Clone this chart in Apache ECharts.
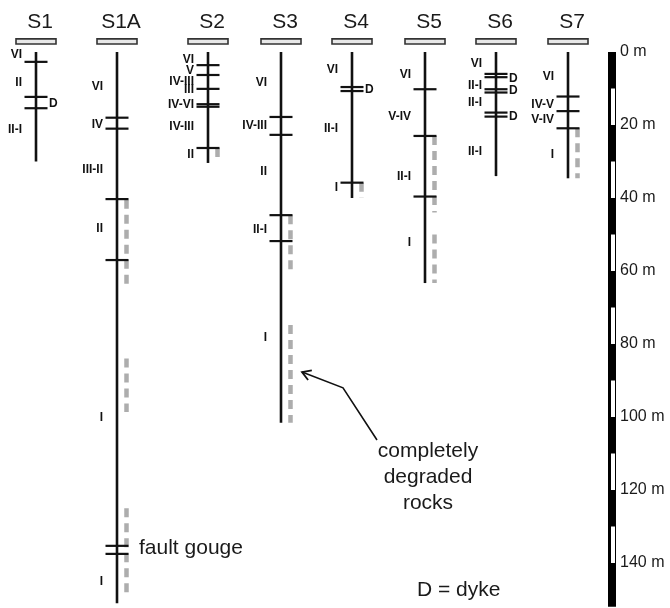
<!DOCTYPE html>
<html>
<head>
<meta charset="utf-8">
<script src="https://cdn.jsdelivr.net/npm/echarts@6/dist/echarts.min.js"></script>
<style>
  html, body { margin: 0; padding: 0; background: #fff; }
  #chart { width: 670px; height: 608px; }
</style>
</head>
<body>
<div id="chart"></div>
<script>
// boreholes and their total depth (m)
const wells = ['S1', 'S1A', 'S2', 'S3', 'S4', 'S5', 'S6', 'S7'];
const wellDepth = [30, 151, 30.4, 101.6, 40, 63.3, 34, 34.6];

// zone boundaries: [well index, depth m]
const contacts = [
  [0, 2.7], [0, 12.3], [0, 15.4],
  [1, 18], [1, 21], [1, 40.3], [1, 57], [1, 135.3], [1, 137.5],
  [2, 3.6], [2, 6.3], [2, 10.1], [2, 14.3], [2, 15], [2, 26.3],
  [3, 17.8], [3, 22.7], [3, 44.7], [3, 51.8],
  [4, 9.6], [4, 10.7], [4, 35.8],
  [5, 10.2], [5, 23], [5, 39.6],
  [6, 6], [6, 6.9], [6, 10.2], [6, 11.1], [6, 16.6], [6, 17.7],
  [7, 12.2], [7, 16.2], [7, 20.9]
];

// completely degraded rock intervals: [well index, from m, to m]
const degraded = [
  [1, 40.5, 64.7], [1, 84, 98.6], [1, 125, 149],
  [2, 26.3, 28.8],
  [3, 44.7, 59.7], [3, 74.8, 101.6],
  [4, 35.8, 40],
  [5, 23, 44], [5, 50, 63.3],
  [7, 20.9, 34.6]
];

// weathering grade labels: [well index, depth m, text]
const zoneLabels = [
  [0, 0.8, 'VI'], [0, 8.5, 'II'], [0, 21.4, 'II-I'],
  [1, 9.6, 'VI'], [1, 19.8, 'IV'], [1, 32.3, 'III-II'], [1, 48.5, 'II'], [1, 100.3, 'I'], [1, 145, 'I'],
  [2, 2.2, 'VI'], [2, 5.2, 'V'], [2, 8.2, 'IV-III'], [2, 10.4, 'III'], [2, 14.5, 'IV-VI'], [2, 20.5, 'IV-III'], [2, 28.2, 'II'],
  [3, 8.4, 'VI'], [3, 20.3, 'IV-III'], [3, 32.8, 'II'], [3, 48.6, 'II-I'], [3, 78.4, 'I'],
  [4, 4.9, 'VI'], [4, 20.9, 'II-I'], [4, 37.3, 'I'],
  [5, 6.3, 'VI'], [5, 17.8, 'V-IV'], [5, 34.2, 'II-I'], [5, 52.2, 'I'],
  [6, 3.1, 'VI'], [6, 9.3, 'II-I'], [6, 13.9, 'II-I'], [6, 27.4, 'II-I'],
  [7, 6.8, 'VI'], [7, 14.5, 'IV-V'], [7, 18.6, 'V-IV'], [7, 28.2, 'I']
];

// dykes: [well index, depth m]
const dykes = [[0, 14.2], [4, 10.4], [6, 7.2], [6, 10.6], [6, 17.7]];

// depth scale
const scaleTicks = [0, 20, 40, 60, 80, 100, 120, 140];
const scaleWhite = [[10, 20], [30, 40], [50, 60], [70, 80], [90, 100], [110, 120], [130, 140]];
const scaleEnd = 152;

// layout (x in page px units, y in metres)
const wellX = [36, 117, 208, 281, 352, 425, 496, 568];
const scaleX = 608;
const PX_PER_M = 3.65;
const TOP = 52;
const FONT = '"Liberation Sans", Arial, sans-serif';

const chart = echarts.init(document.getElementById('chart'));

function seg(x1, y1, x2, y2, w, c) {
  return { type: 'line', shape: { x1, y1, x2, y2 }, style: { stroke: c || '#111', lineWidth: w } };
}

chart.setOption({
  animation: false,
  grid: { left: 0, right: 0, top: 0, bottom: 0 },
  xAxis: { type: 'value', min: 0, max: 670, show: false },
  yAxis: { type: 'value', inverse: true, min: -TOP / PX_PER_M, max: (608 - TOP) / PX_PER_M, show: false },
  series: [
    {
      // headers + collar boxes
      type: 'custom', silent: true,
      data: wells.map((w, i) => [wellX[i], 0, w]),
      renderItem: (params, api) => {
        const x = api.coord([api.value(0), 0])[0];
        const yT = api.coord([0, -8.2])[1];
        const y1 = api.coord([0, -3.6])[1];
        const y2 = api.coord([0, -2.2])[1];
        const name = wells[params.dataIndex];
        return {
          type: 'group', children: [
            { type: 'text', x: x + 4, y: yT, style: { text: name, align: 'center', verticalAlign: 'middle', font: '21px ' + FONT, fill: '#1a1a1a' } },
            { type: 'rect', shape: { x: x - 20, y: y1, width: 40, height: y2 - y1 }, style: { fill: '#e8e8e8', stroke: '#333', lineWidth: 1.6 } }
          ]
        };
      }
    },
    {
      // degraded rock (grey dashes)
      type: 'custom', silent: true,
      data: degraded.map(d => [wellX[d[0]], d[1], d[2]]),
      renderItem: (params, api) => {
        const p1 = api.coord([api.value(0), api.value(1)]);
        const p2 = api.coord([api.value(0), api.value(2)]);
        return {
          type: 'line', shape: { x1: p1[0] + 9.5, y1: p1[1], x2: p2[0] + 9.5, y2: p2[1] },
          style: { stroke: '#adadad', lineWidth: 4.5, lineDash: [9, 6] }
        };
      }
    },
    {
      // borehole lines
      type: 'custom', silent: true,
      data: wellDepth.map((d, i) => [wellX[i], d]),
      renderItem: (params, api) => {
        const a = api.coord([api.value(0), 0]);
        const b = api.coord([api.value(0), api.value(1)]);
        return seg(a[0], a[1], b[0], b[1], 2.6);
      }
    },
    {
      // zone boundaries
      type: 'custom', silent: true,
      data: contacts.map(c => [wellX[c[0]], c[1]]),
      renderItem: (params, api) => {
        const p = api.coord([api.value(0), api.value(1)]);
        return seg(p[0] - 11.5, p[1], p[0] + 11.5, p[1], 2.2);
      }
    },
    {
      // zone labels
      type: 'custom', silent: true,
      data: zoneLabels.map(l => [wellX[l[0]], l[1], l[2]]),
      renderItem: (params, api) => {
        const p = api.coord([api.value(0), api.value(1)]);
        return { type: 'text', x: p[0] - 14, y: p[1], style: { text: zoneLabels[params.dataIndex][2], align: 'right', verticalAlign: 'middle', font: 'bold 12px ' + FONT, fill: '#111' } };
      }
    },
    {
      // dyke labels
      type: 'custom', silent: true,
      data: dykes.map(d => [wellX[d[0]], d[1]]),
      renderItem: (params, api) => {
        const p = api.coord([api.value(0), api.value(1)]);
        return { type: 'text', x: p[0] + 13, y: p[1], style: { text: 'D', align: 'left', verticalAlign: 'middle', font: 'bold 12px ' + FONT, fill: '#111' } };
      }
    },
    {
      // depth scale bar
      type: 'custom', silent: true,
      data: [[scaleX, 0, scaleEnd]],
      renderItem: (params, api) => {
        const a = api.coord([api.value(0), api.value(1)]);
        const b = api.coord([api.value(0), api.value(2)]);
        const kids = [{ type: 'rect', shape: { x: a[0], y: a[1], width: 8, height: b[1] - a[1] }, style: { fill: '#000' } }];
        scaleWhite.forEach(s => {
          const y1 = api.coord([0, s[0]])[1], y2 = api.coord([0, s[1]])[1];
          kids.push({ type: 'rect', shape: { x: a[0] + 3, y: y1, width: 4, height: y2 - y1 }, style: { fill: '#fff' } });
        });
        return { type: 'group', children: kids };
      }
    },
    {
      // depth scale labels
      type: 'custom', silent: true,
      data: scaleTicks.map(t => [scaleX, t]),
      renderItem: (params, api) => {
        const p = api.coord([api.value(0), api.value(1)]);
        return { type: 'text', x: p[0] + 12, y: p[1], style: { text: api.value(1) + ' m', align: 'left', verticalAlign: 'middle', font: '16px ' + FONT, fill: '#1a1a1a' } };
      }
    },
    {
      // annotations
      type: 'custom', silent: true,
      data: [[139, 135.9, 0], [428, 116.4, 1], [417, 147.4, 2]],
      renderItem: (params, api) => {
        const p = api.coord([api.value(0), api.value(1)]);
        const texts = ['fault gouge', 'completely\ndegraded\nrocks', 'D = dyke'];
        const i = api.value(2);
        return { type: 'text', x: p[0], y: p[1], style: { text: texts[i], align: i === 1 ? 'center' : 'left', verticalAlign: 'middle', font: '21px ' + FONT, lineHeight: 26, fill: '#1a1a1a' } };
      }
    },
    {
      // arrow to degraded rock in S3
      type: 'custom', silent: true,
      data: [[377, 106.3, 343, 92, 302, 87.7]],
      renderItem: (params, api) => {
        const s = api.coord([api.value(0), api.value(1)]);
        const m = api.coord([api.value(2), api.value(3)]);
        const t = api.coord([api.value(4), api.value(5)]);
        const ang = Math.atan2(t[1] - m[1], t[0] - m[0]);
        const h = 10, sp = 0.55;
        const h1 = [t[0] - h * Math.cos(ang - sp), t[1] - h * Math.sin(ang - sp)];
        const h2 = [t[0] - h * Math.cos(ang + sp), t[1] - h * Math.sin(ang + sp)];
        return {
          type: 'group', children: [
            { type: 'polyline', shape: { points: [s, m, t] }, style: { stroke: '#111', lineWidth: 1.6, fill: null } },
            { type: 'polyline', shape: { points: [h1, t, h2] }, style: { stroke: '#111', lineWidth: 1.8, fill: null } }
          ]
        };
      }
    }
  ]
});
</script>
</body>
</html>
